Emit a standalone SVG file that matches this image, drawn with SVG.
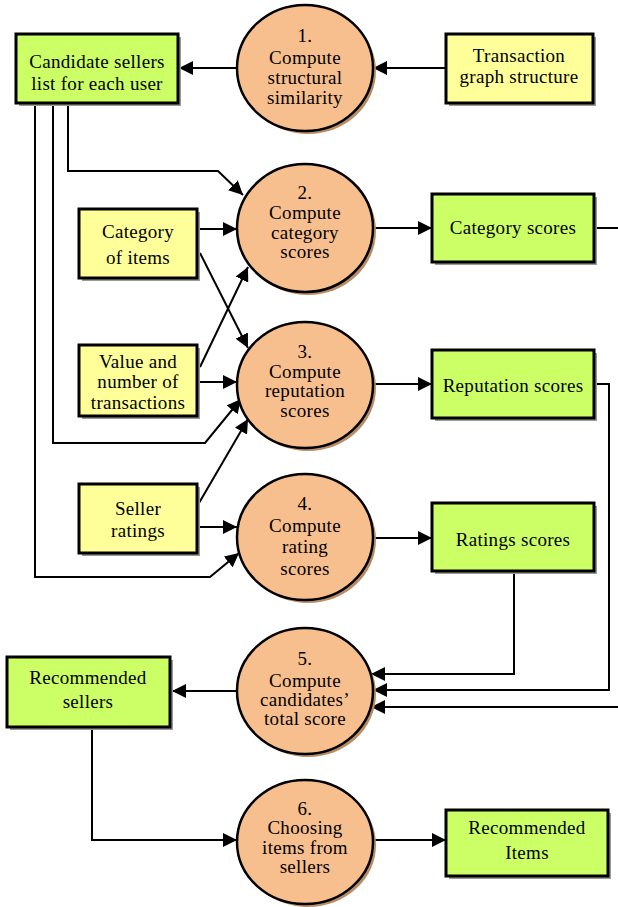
<svg xmlns="http://www.w3.org/2000/svg" width="618" height="907" viewBox="0 0 618 907">
<style>
.g{fill:#CCFF66;stroke:#000;stroke-width:3}
.y{fill:#FFFF99;stroke:#000;stroke-width:3}
.sh{fill:#9a9a9a}
.c{fill:#F8BF8E;stroke:#000;stroke-width:2.5}
.cs{fill:#B98C66}
text{font-family:"Liberation Serif","Times New Roman",serif;font-size:19px;fill:#000;text-anchor:middle;letter-spacing:0.3px}
.con path{fill:none;stroke:#000;stroke-width:2}
</style>
<defs>
<marker id="ah" markerUnits="userSpaceOnUse" markerWidth="14" markerHeight="14" refX="14" refY="7" orient="auto">
<path d="M0,0 L14,7 L0,14 z" fill="#000"/>
</marker>
</defs>
<g class="con">
<path d="M446,68 H373" marker-end="url(#ah)"/>
<path d="M237,68 H179" marker-end="url(#ah)"/>
<path d="M68,103 V171 H218 L243,195" marker-end="url(#ah)"/>
<path d="M197,229 H237" marker-end="url(#ah)"/>
<path d="M200,253 L248,348" marker-end="url(#ah)"/>
<path d="M200,367 L248,267" marker-end="url(#ah)"/>
<path d="M197,382 H237" marker-end="url(#ah)"/>
<path d="M53,103 V443 H205 L241,399" marker-end="url(#ah)"/>
<path d="M199,503 L248,419" marker-end="url(#ah)"/>
<path d="M197,527 H237" marker-end="url(#ah)"/>
<path d="M35,103 V577 H210 L239,553" marker-end="url(#ah)"/>
<path d="M373,228 H432" marker-end="url(#ah)"/>
<path d="M594,228 H618"/>
<path d="M373,384 H432" marker-end="url(#ah)"/>
<path d="M594,384 H609 V690 H373" marker-end="url(#ah)"/>
<path d="M373,538 H432" marker-end="url(#ah)"/>
<path d="M514,571 V674 H371" marker-end="url(#ah)"/>
<path d="M618,707 H371" marker-end="url(#ah)"/>
<path d="M237,691 H172" marker-end="url(#ah)"/>
<path d="M92,727 V840 H237" marker-end="url(#ah)"/>
<path d="M373,840 H446" marker-end="url(#ah)"/>
</g>
<g id="candidate">
<rect class="sh" x="19" y="37" width="162" height="69"/>
<rect class="g" x="16" y="34" width="162" height="69"/>
<text x="97" y="68">Candidate sellers</text>
<text x="97" y="90">list for each user</text>
</g>
<g id="p1">
<ellipse class="cs" cx="308" cy="71" rx="68" ry="63"/>
<ellipse class="c" cx="305" cy="68" rx="68" ry="63"/>
<text x="305" y="42">1.</text>
<text x="305" y="64">Compute</text>
<text x="305" y="84">structural</text>
<text x="305" y="104">similarity</text>
</g>
<g id="transaction">
<rect class="sh" x="449" y="37" width="147" height="69"/>
<rect class="y" x="446" y="34" width="147" height="69"/>
<text x="519" y="62">Transaction</text>
<text x="519" y="83">graph structure</text>
</g>
<g id="p2">
<ellipse class="cs" cx="308" cy="231" rx="68" ry="64"/>
<ellipse class="c" cx="305" cy="228" rx="68" ry="64"/>
<text x="305" y="199">2.</text>
<text x="305" y="219">Compute</text>
<text x="305" y="239">category</text>
<text x="305" y="258">scores</text>
</g>
<g id="catitems">
<rect class="sh" x="82" y="212" width="118" height="69"/>
<rect class="y" x="79" y="209" width="118" height="69"/>
<text x="138" y="238">Category</text>
<text x="138" y="264">of items</text>
</g>
<g id="catscores">
<rect class="sh" x="435" y="197" width="162" height="68"/>
<rect class="g" x="432" y="194" width="162" height="68"/>
<text x="513" y="234">Category scores</text>
</g>
<g id="value">
<rect class="sh" x="82" y="348" width="118" height="71"/>
<rect class="y" x="79" y="345" width="118" height="71"/>
<text x="138" y="368">Value and</text>
<text x="138" y="388">number of</text>
<text x="138" y="409">transactions</text>
</g>
<g id="p3">
<ellipse class="cs" cx="308" cy="388" rx="68" ry="63"/>
<ellipse class="c" cx="305" cy="385" rx="68" ry="63"/>
<text x="305" y="358">3.</text>
<text x="305" y="378">Compute</text>
<text x="305" y="397">reputation</text>
<text x="305" y="417">scores</text>
</g>
<g id="repscores">
<rect class="sh" x="435" y="353" width="162" height="68"/>
<rect class="g" x="432" y="350" width="162" height="68"/>
<text x="513" y="392">Reputation scores</text>
</g>
<g id="sellerratings">
<rect class="sh" x="82" y="487" width="118" height="69"/>
<rect class="y" x="79" y="484" width="118" height="69"/>
<text x="138" y="515">Seller</text>
<text x="138" y="537">ratings</text>
</g>
<g id="p4">
<ellipse class="cs" cx="308" cy="540" rx="68" ry="63"/>
<ellipse class="c" cx="305" cy="537" rx="68" ry="63"/>
<text x="305" y="510">4.</text>
<text x="305" y="532">Compute</text>
<text x="305" y="553">rating</text>
<text x="305" y="575">scores</text>
</g>
<g id="ratscores">
<rect class="sh" x="435" y="506" width="162" height="68"/>
<rect class="g" x="432" y="503" width="162" height="68"/>
<text x="513" y="546">Ratings scores</text>
</g>
<g id="p5">
<ellipse class="cs" cx="308" cy="694" rx="68" ry="63"/>
<ellipse class="c" cx="305" cy="691" rx="68" ry="63"/>
<text x="305" y="665">5.</text>
<text x="305" y="687">Compute</text>
<text x="305" y="706">candidates’</text>
<text x="305" y="725">total score</text>
</g>
<g id="recsellers">
<rect class="sh" x="10" y="660" width="163" height="70"/>
<rect class="g" x="7" y="657" width="163" height="70"/>
<text x="88" y="684">Recommended</text>
<text x="88" y="708">sellers</text>
</g>
<g id="p6">
<ellipse class="cs" cx="308" cy="845" rx="68" ry="62"/>
<ellipse class="c" cx="305" cy="842" rx="68" ry="62"/>
<text x="305" y="815">6.</text>
<text x="305" y="834">Choosing</text>
<text x="305" y="854">items from</text>
<text x="305" y="873">sellers</text>
</g>
<g id="recitems">
<rect class="sh" x="449" y="813" width="162" height="66"/>
<rect class="g" x="446" y="810" width="162" height="66"/>
<text x="527" y="834">Recommended</text>
<text x="527" y="859">Items</text>
</g>
</svg>
